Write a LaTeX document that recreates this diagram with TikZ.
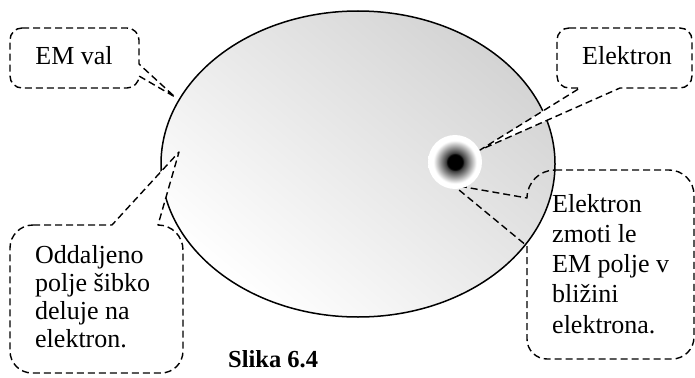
\documentclass[tikz,border=0pt]{standalone}
\usepackage{fontspec}
\setmainfont{Liberation Serif}
\pgfdeclareradialshading{electronshade}{\pgfpoint{0bp}{0bp}}{color(0bp)=(black); color(7bp)=(black); color(8.5bp)=(black!75); color(20bp)=(white); color(25bp)=(white); color(50bp)=(white)}
\begin{document}
\begin{tikzpicture}[x=1pt,y=-1pt,
  callout/.style={draw=black, line width=1.4pt, dash pattern=on 7pt off 4pt, line join=round},
  lbl/.style={inner sep=0pt, font=\fontsize{26}{30}\selectfont},
]
\useasboundingbox (0,0) rectangle (695,377);
% field ellipse
\shade[top color=black!17, bottom color=white, shading angle=-40]
  (358,164) ellipse [x radius=197, y radius=153];
\draw[line width=1.5pt] (358,164) ellipse [x radius=197, y radius=153];
% callout: EM val
\filldraw[callout, fill=white] (22,28) -- (127,28) arc[start angle=270, end angle=360, radius=12]
  -- (139,64) -- (175,97) -- (139,76) arc[start angle=0, end angle=90, radius=12]
  -- (22,88) arc[start angle=90, end angle=180, radius=12]
  -- (10,40) arc[start angle=180, end angle=270, radius=12] -- cycle;
% callout: Elektron
\filldraw[callout, fill=white] (569,28) -- (680,28) arc[start angle=270, end angle=360, radius=12]
  -- (692,76) arc[start angle=0, end angle=90, radius=12]
  -- (620,88) -- (480,150) -- (580,88)
  -- (569,88) arc[start angle=90, end angle=180, radius=12]
  -- (557,40) arc[start angle=180, end angle=270, radius=12] -- cycle;
% callout: far field
\filldraw[callout, fill=white] (33,225) -- (112,225) -- (179,152) -- (158,225)
  arc[start angle=270, end angle=360, radius=25]
  -- (183,351) arc[start angle=0, end angle=90, radius=22]
  -- (32,373) arc[start angle=90, end angle=180, radius=22]
  -- (10,248) arc[start angle=180, end angle=270, radius=23] -- cycle;
% callout: near field (unfilled)
\draw[callout] (555,170) -- (669,170) arc[start angle=270, end angle=360, radius=25]
  -- (694,337) arc[start angle=0, end angle=90, radius=22]
  -- (547,359) arc[start angle=90, end angle=180, radius=20]
  -- (527,246) -- (453,185) -- (527,198)
  arc[start angle=180, end angle=270, radius=28] -- cycle;
% electron
\shade[shading=electronshade] (455,162) circle [radius=27];
% texts
\node[lbl, anchor=base] (emval) at (74,65) {EM val};
\node[lbl, anchor=base] (elek) at (627,65) {Elektron};
\node[lbl, anchor=base west, align=left, font=\fontsize{26}{28}\selectfont] (far) at (35,347)
  {Oddaljeno\\polje šibko\\deluje na\\elektron.};
\node[lbl, anchor=base west, align=left, font=\fontsize{26}{30.2}\selectfont] (near) at (552,333)
  {Elektron\\zmoti le\\EM polje v\\bližini\\elektrona.};
\node[inner sep=0pt, anchor=base west, font=\bfseries\fontsize{24.5}{28}\selectfont] (cap) at (228,367) {Slika 6.4};
\end{tikzpicture}
\end{document}
